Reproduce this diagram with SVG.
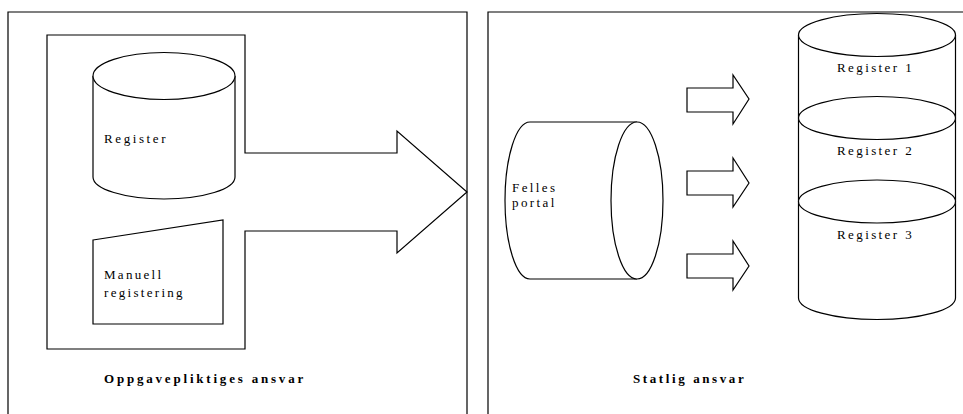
<svg xmlns="http://www.w3.org/2000/svg" width="963" height="414" viewBox="0 0 963 414">
<style>
.s{fill:none;stroke:#000;stroke-width:1.2}
.w{fill:#fff;stroke:#000;stroke-width:1.2}
.t{font-family:"Liberation Serif","Times New Roman",serif;font-size:13px;fill:#000;letter-spacing:2.4px}
.b{font-family:"Liberation Serif","Times New Roman",serif;font-size:13px;font-weight:bold;fill:#000;letter-spacing:2.8px}
</style>
<rect width="963" height="414" fill="#fff"/>
<g id="panel-left">
<path class="s" d="M8,414 V12 H467 V414"/>
<text class="b" x="104" y="383">Oppgavepliktiges ansvar</text>
</g>
<g id="panel-right">
<path class="s" d="M488,414 V12 H963"/>
<text class="b" x="633" y="383" style="letter-spacing:2.6px">Statlig ansvar</text>
</g>
<g id="connectors">
<path class="s" d="M47,35 H245 V153 H397 V131 L467,192 L397,253 V231 H245 V349 H47 Z"/>
<path class="s" d="M687,88 H733 V75 L749,99 L733,124 V112 H687 Z"/>
<path class="s" d="M687,171 H733 V158 L749,183 L733,207 V195 H687 Z"/>
<path class="s" d="M687,254 H733 V241 L749,266 L733,290 V278 H687 Z"/>
</g>
<g id="register">
<path class="w" d="M93,76 V177 A71,22 0 0 0 235,177 V76"/>
<ellipse class="w" cx="164" cy="76" rx="71" ry="23.5"/>
<text class="t" x="104" y="143" style="letter-spacing:2.6px">Register</text>
</g>
<g id="manuell">
<path class="w" d="M93,240 L223,220 V324 H93 Z"/>
<text class="t" x="104" y="279" style="letter-spacing:2.3px">Manuell</text>
<text class="t" x="104" y="297" style="letter-spacing:2.3px">registering</text>
</g>
<g id="felles-portal">
<path class="w" d="M637,122 H530 A25,78.5 0 0 0 530,279 H637"/>
<ellipse class="w" cx="637" cy="200.5" rx="26" ry="78.5"/>
<text class="t" x="512" y="192">Felles</text>
<text class="t" x="512" y="207">portal</text>
</g>
<g id="registers">
<path class="w" d="M798.5,35 V298 A78.5,21.5 0 0 0 955.5,298 V35"/>
<ellipse class="w" cx="877" cy="35" rx="78.5" ry="21.5"/>
<ellipse class="w" cx="877" cy="118" rx="78.5" ry="21.5"/>
<ellipse class="w" cx="877" cy="201.5" rx="78.5" ry="21.5"/>
<text class="t" x="837" y="72">Register 1</text>
<text class="t" x="837" y="155">Register 2</text>
<text class="t" x="837" y="239">Register 3</text>
</g>
</svg>
